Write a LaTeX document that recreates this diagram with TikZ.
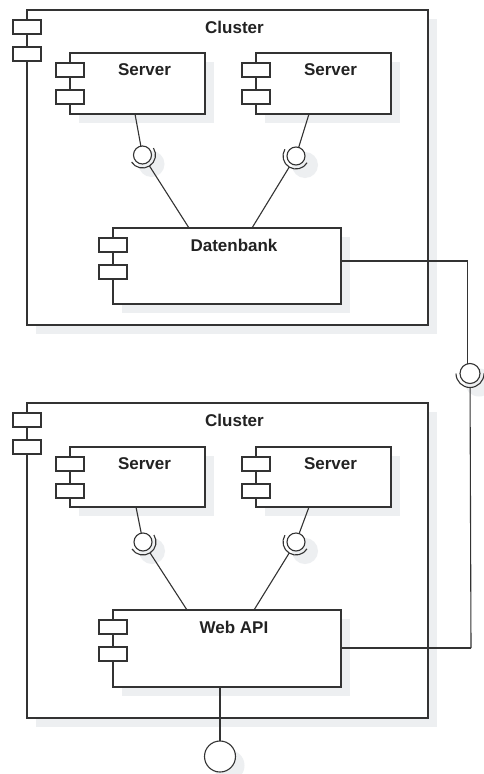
\documentclass[tikz,border=0pt]{standalone}
\usepackage{fontspec}
\setmainfont{Liberation Sans}
\usetikzlibrary{calc}

\definecolor{ink}{RGB}{51,51,51}
\definecolor{txt}{RGB}{34,34,34}
\definecolor{shadowc}{RGB}{237,239,241}

\tikzset{
  wire/.style={draw=ink, line width=1.1pt},
  box/.style={draw=ink, line width=1.1pt, fill=white, inner sep=0pt, outer sep=0pt},
  tab/.style={draw=ink, line width=1.1pt, fill=white, inner sep=0pt, outer sep=0pt,
              minimum width=28pt, minimum height=14pt, anchor=north west},
  lbl/.style={text=txt, font=\bfseries\fontsize{17}{20}\selectfont, inner sep=0pt},
  ball/.style={circle, draw=ink, line width=1.1pt, fill=white, inner sep=0pt, outer sep=0pt},
}

% component box: name, x1, y1, x2, y2, label
\newcommand\umlcomp[6]{%
  \fill[shadowc] (#2+9,#3+9) rectangle (#4+9,#5+9);
  \node[box, anchor=north west, minimum width=#4pt-#2pt, minimum height=#5pt-#3pt] (#1) at (#2,#3) {};
  \node[tab] (#1-t1) at (#2-14,#3+10) {};
  \node[tab] (#1-t2) at (#2-14,#3+37) {};
  \node[lbl] (#1-l) at ({(#2+14+#4)/2},#3+17) {#6};
}

% required interface (ball and socket): name, x, y, radius, target coordinate
\newcommand\umlsocket[5]{%
  \fill[shadowc] (#2+9,#3+9) circle (#4pt+4pt);
  \node[ball, minimum size=2*#4pt] (#1) at (#2,#3) {};
  \draw[wire] let \p1=($(#5)-(#1.center)$), \n1={atan2(\y1,\x1)} in
    ($(#1.center)+(\n1-90:#4pt+4pt)$) arc[start angle=\n1-90, end angle=\n1+90, radius=#4pt+4pt];
  \draw[wire] ($(#1.center)!#4pt+4pt!(#5)$) -- (#5);
}

\begin{document}
\begin{tikzpicture}[x=1pt, y=-1pt]
  \useasboundingbox (0,0) rectangle (483,774);
  \fill[white] (0,0) rectangle (483,774);

  % upper cluster
  \umlcomp{c1}{27}{10}{428}{325}{Cluster}
  \umlcomp{s1}{70}{53}{205}{114}{Server}
  \umlcomp{s2}{256}{53}{391}{114}{Server}
  \umlcomp{db}{113}{228}{341}{304}{Datenbank}
  \coordinate (s1b) at (135,114);
  \coordinate (s2b) at (309,114);
  \coordinate (dbl) at (189,228);
  \coordinate (dbt) at (252,228);
  \umlsocket{i1}{142.5}{155}{9}{dbl}
  \umlsocket{i2}{296}{156}{9}{dbt}
  \draw[wire] (s1b) -- (i1);
  \draw[wire] (s2b) -- (i2);

  % lower cluster
  \umlcomp{c2}{27}{403}{428}{718}{Cluster}
  \umlcomp{s3}{70}{447}{205}{507}{Server}
  \umlcomp{s4}{256}{447}{391}{507}{Server}
  \umlcomp{api}{113}{610}{341}{687}{Web API}
  \coordinate (s3b) at (136,507);
  \coordinate (s4b) at (309,507);
  \coordinate (apil) at (187,610);
  \coordinate (apit) at (254,610);
  \umlsocket{i3}{143}{542}{9}{apil}
  \umlsocket{i4}{296}{542}{9}{apit}
  \draw[wire] (s3b) -- (i3);
  \draw[wire] (s4b) -- (i4);

  % link between the two clusters
  \coordinate (dbr) at (341,261);
  \coordinate (apir) at (341,648);
  \coordinate (apib) at (220,687);
  \coordinate (rdown) at (471,648);
  \umlsocket{i5}{470}{373.5}{10}{rdown}
  \coordinate (i5top) at (467.5,363.8);
  \draw[wire] (dbr) -| (i5top);
  \draw[wire] (apir) -- (rdown);

  % provided interface of the web API
  \fill[shadowc] (229,765.5) circle (15.5pt);
  \node[ball, minimum size=31pt] (i6) at (220,756.5) {};
  \draw[wire] (apib) -- (i6);
\end{tikzpicture}
\end{document}
